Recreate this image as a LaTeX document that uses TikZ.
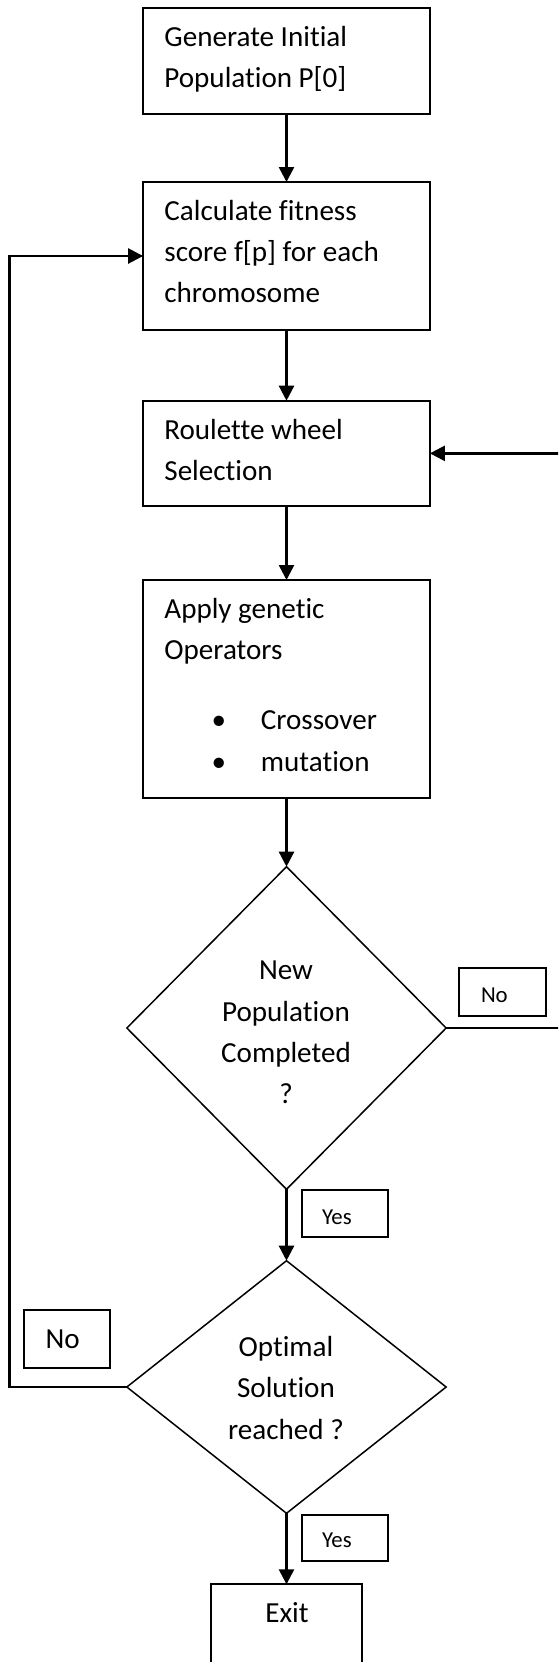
\documentclass[tikz,border=0pt]{standalone}
\usepackage{fontspec}
\setmainfont[Ligatures={NoCommon}]{Carlito}
\usetikzlibrary{arrows.meta,shapes.geometric}
\begin{document}
\begin{tikzpicture}[x=0.5pt,y=-0.5pt,
  boxst/.style={draw, line width=1pt, rectangle, inner sep=0pt, outer sep=0pt, minimum width=143.4pt},
  decst/.style={draw, line width=0.75pt, diamond, inner sep=0pt, outer sep=0pt, minimum width=159.65pt},
  lblst/.style={draw, line width=1pt, rectangle, inner sep=0pt, outer sep=0pt},
  big/.style={inner sep=0pt, outer sep=0pt, font=\fontsize{14.55pt}{20pt}\selectfont},
  small/.style={inner sep=0pt, outer sep=0pt, font=\fontsize{11.4pt}{14pt}\selectfont},
  arr/.style={line width=1.25pt, -{Triangle[width=7.5pt,length=7.5pt]}},
  lin/.style={line width=1.25pt}
]
\useasboundingbox (0,0) rectangle (558,1662);
\clip (0,0) rectangle (558,1662);

% boxes
\node[boxst, minimum height=52.85pt] (b1) at (286.5,61.15) {};
\node[boxst, minimum height=74pt] (b2) at (286.5,256) {};
\node[boxst, minimum height=52.65pt] (b3) at (286.5,453.35) {};
\node[boxst, minimum height=108.85pt] (b4) at (286.5,688.85) {};
\node[decst, minimum height=161.3pt] (d1) at (286.5,1028) {};
\node[decst, minimum height=126.3pt] (d2) at (286.5,1387) {};
\node[boxst, minimum width=75.1pt, minimum height=67.85pt] (ex) at (286.5,1652.15) {};

% label boxes
\node[lblst, minimum width=43.45pt, minimum height=23.7pt] (no1) at (502.85,992) {};
\node[lblst, minimum width=43.05pt, minimum height=23.65pt] (yes1) at (344.85,1213.65) {};
\node[lblst, minimum width=43.25pt, minimum height=29.15pt] (no2) at (67.05,1339.15) {};
\node[lblst, minimum width=43.05pt, minimum height=22.85pt] (yes2) at (344.85,1537.85) {};

% texts
\node[big, anchor=base west] (t1a) at (164.4,46) {Generate Initial};
\node[big, anchor=base west] (t1b) at (164.4,87.7) {Population P[0]};
\node[big, anchor=base west] (t2a) at (164.4,220.7) {Calculate fitness};
\node[big, anchor=base west] (t2b) at (164.4,261.7) {score f[p] for each};
\node[big, anchor=base west] (t2c) at (164.4,302.3) {chromosome};
\node[big, anchor=base west] (t3a) at (164.4,439.3) {Roulette wheel};
\node[big, anchor=base west] (t3b) at (164.4,480) {Selection};
\node[big, anchor=base west] (t4a) at (164.4,618.3) {Apply genetic};
\node[big, anchor=base west] (t4b) at (164.4,659.3) {Operators};
\node[big, anchor=base] (t4c) at (218.9,729.3) {\textbullet};
\node[big, anchor=base west] (t4d) at (260.9,729.3) {Crossover};
\node[big, anchor=base] (t4e) at (218.9,771.7) {\textbullet};
\node[big, anchor=base west] (t4f) at (260.9,771.7) {mutation};
\node[big, anchor=base] (t5a) at (286,979.3) {New};
\node[big, anchor=base] (t5b) at (286,1021) {Population};
\node[big, anchor=base] (t5c) at (286,1062.7) {Completed};
\node[big, anchor=base] (t5d) at (286,1103.3) {?};
\node[big, anchor=base] (t6a) at (286,1356.7) {Optimal};
\node[big, anchor=base] (t6b) at (286,1397.3) {Solution};
\node[big, anchor=base] (t6c) at (286,1439.3) {reached ?};
\node[big, anchor=base] (t7) at (287,1622.3) {Exit};
\node[small, anchor=base west] (no1t) at (481,1002.3) {No};
\node[small, anchor=base west] (yes1t) at (322,1224) {Yes};
\node[big, anchor=base west] (no2t) at (45.6,1348.3) {No};
\node[small, anchor=base west] (yes2t) at (322,1547.3) {Yes};

% connectors
\draw[arr] (b1.south) -- (b2.north);
\draw[arr] (b2.south) -- (b3.north);
\draw[arr] (b3.south) -- (b4.north);
\draw[arr] (b4.south) -- (d1.north);
\draw[arr] (d1.south) -- (d2.north);
\draw[arr] (d2.south) -- (ex.north);
\coordinate (rc) at (600,453.35);
\draw[arr] (d1.east) -| (rc) -- (b3.east);
\coordinate (lc) at (9.6,256);
\draw[arr] (d2.west) -| (lc) -- (b2.west);
\end{tikzpicture}
\end{document}
